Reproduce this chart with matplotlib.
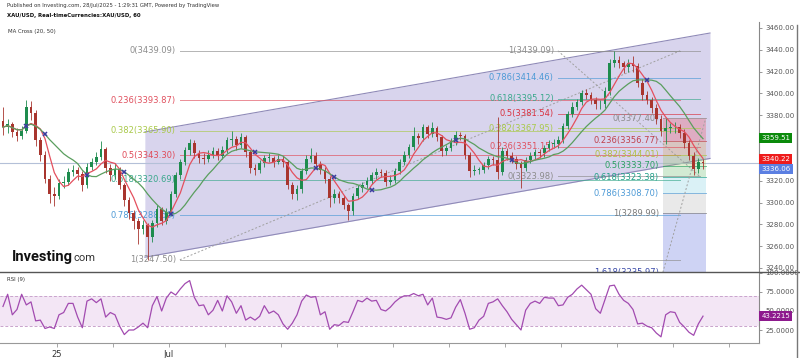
import numpy as np
import pandas as pd
import matplotlib
matplotlib.use('Agg')
import matplotlib.pyplot as plt
from matplotlib.lines import Line2D
from matplotlib.transforms import offset_copy

# XAU/USD, 4-hour bars (Jun 23 - Jul 28 2025)
first_open = 3375
closes = [3369, 3372, 3365, 3361, 3366, 3388, 3382, 3357, 3344, 3322,
          3308, 3306, 3318, 3319, 3328, 3330, 3326, 3316, 3333, 3337,
          3342, 3349, 3332, 3325, 3331, 3316, 3302, 3290, 3283, 3276,
          3279, 3268, 3281, 3294, 3283, 3291, 3308, 3325, 3337, 3348,
          3355, 3345, 3341, 3340, 3344, 3347, 3343, 3348, 3357, 3358,
          3353, 3360, 3346, 3332, 3330, 3336, 3341, 3341, 3337, 3340,
          3337, 3316, 3308, 3312, 3329, 3340, 3343, 3335, 3330, 3322,
          3304, 3308, 3304, 3298, 3292, 3306, 3313, 3316, 3320, 3325,
          3328, 3327, 3319, 3321, 3329, 3337, 3344, 3351, 3361, 3359,
          3369, 3363, 3368, 3360, 3347, 3350, 3356, 3362, 3361, 3344,
          3329, 3330, 3330, 3334, 3340, 3339, 3328, 3347, 3343, 3340,
          3335, 3332, 3339, 3343, 3346, 3345, 3350, 3354, 3354, 3357,
          3370, 3381, 3388, 3392, 3400, 3399, 3394, 3390, 3390, 3402,
          3428, 3431, 3428, 3424, 3428, 3425, 3410, 3399, 3394, 3387,
          3377, 3366, 3368, 3369, 3369, 3364, 3355, 3343, 3331, 3337,
          3336.06]
highs = [3388, 3377, 3374, 3368, 3370, 3394, 3393, 3385, 3360, 3347,
         3325, 3314, 3322, 3324, 3332, 3334, 3333, 3329, 3336, 3341,
         3346, 3356, 3351, 3335, 3336, 3333, 3318, 3305, 3293, 3286,
         3284, 3281, 3284, 3298, 3296, 3295, 3311, 3328, 3340, 3351,
         3358, 3357, 3348, 3345, 3348, 3351, 3350, 3352, 3360, 3366,
         3361, 3364, 3362, 3348, 3335, 3339, 3344, 3345, 3343, 3344,
         3343, 3339, 3319, 3316, 3332, 3344, 3350, 3346, 3338, 3333,
         3324, 3312, 3311, 3307, 3300, 3309, 3316, 3319, 3323, 3328,
         3332, 3331, 3330, 3325, 3332, 3340, 3347, 3354, 3369, 3364,
         3372, 3371, 3374, 3370, 3362, 3353, 3359, 3366, 3365, 3363,
         3346, 3334, 3333, 3337, 3343, 3343, 3378, 3351, 3350, 3346,
         3343, 3338, 3342, 3346, 3349, 3349, 3353, 3357, 3358, 3361,
         3373, 3384, 3392, 3395, 3403, 3404, 3401, 3397, 3394, 3406,
         3432, 3439.09, 3434, 3430, 3432, 3434, 3428, 3413, 3402, 3397,
         3390, 3380, 3377.4, 3373, 3374, 3372, 3367, 3357, 3346, 3341,
         3340]
lows = [3362, 3364, 3360, 3356, 3358, 3364, 3376, 3352, 3338, 3318,
        3300, 3297, 3303, 3313, 3316, 3324, 3321, 3311, 3313, 3330,
        3334, 3339, 3327, 3320, 3322, 3312, 3297, 3285, 3276, 3262,
        3271, 3247.5, 3264, 3278, 3279, 3280, 3288, 3305, 3322, 3334,
        3344, 3341, 3336, 3335, 3337, 3341, 3339, 3340, 3345, 3352,
        3348, 3350, 3342, 3327, 3325, 3327, 3333, 3337, 3333, 3335,
        3333, 3312, 3303, 3302, 3309, 3326, 3337, 3331, 3326, 3318,
        3296, 3300, 3300, 3294, 3284, 3289, 3303, 3310, 3313, 3317,
        3322, 3323, 3315, 3316, 3318, 3326, 3334, 3341, 3348, 3354,
        3356, 3359, 3360, 3356, 3343, 3344, 3347, 3353, 3357, 3340,
        3323, 3325, 3326, 3327, 3331, 3334, 3322, 3325, 3339, 3336,
        3331, 3313, 3329, 3336, 3340, 3341, 3342, 3347, 3350, 3350,
        3355, 3367, 3378, 3385, 3389, 3395, 3390, 3386, 3386, 3387,
        3399, 3424, 3423, 3419, 3420, 3420, 3406, 3394, 3390, 3382,
        3372, 3361, 3354, 3364, 3364, 3359, 3350, 3339, 3325, 3327,
        3331]
rsi = [56, 72, 45, 52, 72, 58, 62, 37, 38, 27,
       29, 27, 45, 48, 60, 60, 42, 28, 63, 66,
       61, 66, 42, 48, 45, 30, 19, 25, 25, 29,
       34, 28, 57, 69, 50, 67, 75, 71, 79, 86,
       90, 68, 57, 58, 45, 51, 64, 50, 70, 62,
       47, 57, 38, 42, 38, 43, 57, 47, 50, 45,
       33, 26, 34, 45, 63, 71, 68, 69, 45, 49,
       26, 32, 31, 36, 35, 49, 64, 62, 67, 63,
       64, 52, 50, 55, 62, 67, 70, 70, 73, 70,
       72, 58, 67, 42, 41, 39, 41, 55, 65, 47,
       26, 28, 38, 43, 60, 62, 66, 57, 49, 39,
       32, 25, 51, 60, 63, 60, 68, 67, 67, 57,
       58, 68, 72, 79, 84, 78, 72, 53, 47, 65,
       83, 84, 72, 64, 60, 52, 33, 34, 30, 28,
       21, 16, 45, 49, 48, 35, 29, 22, 18, 33,
       43.2215]

last_price = 3336.06
ma20_last = 3340.22
ma50_last = 3359.51
rsi_last = 43.2215

# drawings: parallel channel (bar, upper, lower) and three fib retracements
channel_bars = [30.4, 151.5]
channel_upper = [3364.7, 3455.4]
channel_lower = [3249.9, 3340.4]

fib_a_bars = [37.9, 145.1]
fib_a_levels = [0, 0.236, 0.382, 0.5, 0.618, 0.786, 1]
fib_a_prices = [3439.09, 3393.87, 3365.90, 3343.30, 3320.69, 3288.50, 3247.50]
fib_a_colors = ['#8c8c8c', '#e0505e', '#a9c94a', '#e04a58', '#3aa88c', '#4d9ad6', '#8c8c8c']

fib_b_bars = [118.9, 149.3]
fib_b_levels = [1, 0.786, 0.618, 0.5, 0.382, 0.236, 0]
fib_b_prices = [3439.09, 3414.46, 3395.12, 3381.54, 3367.95, 3351.15, 3323.98]
fib_b_colors = ['#8c8c8c', '#4d9ad6', '#3aa88c', '#d8303e', '#a9c94a', '#e0505e', '#8c8c8c']

fib_c_bars = [141.4, 150.6]
fib_c_levels = [0, 0.236, 0.382, 0.5, 0.618, 0.786, 1, 1.618]
fib_c_prices = [3377.40, 3356.77, 3344.01, 3333.70, 3323.38, 3308.70, 3289.99, 3235.97]
fib_c_colors = ['#8c8c8c', '#c0404c', '#b0c040', '#2aa060', '#20a088', '#4d9ad6', '#7a7a7a', '#3848a8']
fib_c_fills = ['#f23645', '#d89a40', '#8bc34a', '#4caf50', '#6cc8dc', '#a8a8a8', '#3f51d5']

tick_bars = np.arange(11.5, 160, 12)
tick_labels = ['25', '', 'Jul'] + [''] * (len(tick_bars) - 3)
price_ticks = np.arange(3240, 3461, 20)

# ---------------------------------------------------------------
W, H = 800, 358
fig = plt.figure(figsize=(8, 3.58), dpi=100)
fig.patch.set_facecolor('white')

ax = fig.add_axes([0, 86 / H, 759 / W, 250 / H])
ax2 = fig.add_axes([0, 15 / H, 759 / W, 71 / H], sharex=ax)

n = len(closes)
x = np.arange(n)
opens = np.array([first_open] + closes[:-1], dtype=float)
c = np.array(closes, dtype=float)

ax.set_xlim(-0.64, 162.0)
ax.set_ylim(3236.3, 3465.5)

# channel
ax.fill_between(channel_bars, channel_lower, channel_upper, color='#d8d4ed', lw=0, zorder=1)
ax.plot(channel_bars, channel_upper, color='#8f8ab8', lw=0.8, zorder=1.2)
ax.plot(channel_bars, channel_lower, color='#8f8ab8', lw=0.8, zorder=1.2)

# current price line
ax.axhline(last_price, color='#b4c0d8', lw=0.8, zorder=1.5)

lbl_trans = offset_copy(ax.transData, fig=fig, x=-4, y=0, units='dots')


def draw_fib(bars, levels, prices, colors, fills=None):
    if fills is not None:
        for k in range(len(prices) - 1):
            ax.fill_between(bars, prices[k + 1], prices[k], color=fills[k],
                            alpha=0.25, lw=0, zorder=1.6)
    for lvl, p, col in zip(levels, prices, colors):
        ax.plot(bars, [p, p], color=col, lw=0.7, alpha=0.65, zorder=2)
        ax.text(bars[0], p, '%g(%.2f)' % (lvl, p), transform=lbl_trans, ha='right',
                va='center', fontsize=6, color=col, zorder=2, clip_on=True)
    ax.plot(bars, [prices[-1], prices[0]] if levels[0] == 0 else [prices[0], prices[-1]],
            color='#a0a0a0', lw=0.7, ls=(0, (2, 2)), zorder=2)


draw_fib(fib_a_bars, fib_a_levels, fib_a_prices, fib_a_colors)
draw_fib(fib_b_bars, fib_b_levels, fib_b_prices, fib_b_colors)
draw_fib(fib_c_bars, fib_c_levels, fib_c_prices, fib_c_colors, fib_c_fills)

# candles
up = c >= opens
col = np.where(up, '#1e8c4e', '#a8352e')
ax.vlines(x, lows, highs, colors=col, lw=0.6, zorder=3)
body = np.where(np.abs(c - opens) < 0.5, 0.5, c - opens)
ax.bar(x, body, bottom=opens, width=0.62, color=col, lw=0, zorder=3)

# moving averages (20h / 50h on 4h bars)
s = pd.Series(c)
ma20 = s.rolling(5, min_periods=1).mean().values
ma50 = s.rolling(12, min_periods=1).mean().values
ax.plot(x, ma20, color='#e4505e', lw=0.9, zorder=4)
ax.plot(x, ma50, color='#5a9e5e', lw=0.9, zorder=4)
d = np.sign(ma20 - ma50)
cross = np.where((d[1:] != d[:-1]) & (d[1:] != 0))[0] + 1
ax.plot(x[cross], ma50[cross], 'x', color='#3b3ba0', ms=2.5, mew=1.1, zorder=5)

# price axis (labels hidden under the value boxes are left blank)
for sp in ['top', 'left', 'bottom']:
    ax.spines[sp].set_visible(False)
ax.spines['right'].set_color('#888888')
ax.spines['right'].set_linewidth(0.8)
ax.yaxis.tick_right()
ax.set_yticks(price_ticks)
covered = [ma50_last, ma20_last]
ax.set_yticklabels(['' if min(abs(t - v) for v in covered) < 5 else '%.2f' % t
                    for t in price_ticks])
ax.tick_params(axis='y', labelsize=5, colors='#888888', labelcolor='#555555',
               length=2.5, width=0.6, pad=2)
ax.tick_params(axis='x', bottom=False, labelbottom=False)

ytr = ax.get_yaxis_transform()
box = dict(boxstyle='square,pad=0.3', ec='none')
ax.text(1.003, ma50_last, '%.2f' % ma50_last, transform=ytr, ha='left', va='center',
        fontsize=5, color='white', bbox=dict(box, fc='#0b8a0b'), zorder=10, clip_on=False)
ax.text(1.003, ma20_last, '%.2f' % ma20_last, transform=ytr, ha='left', va='center',
        fontsize=5, color='white', bbox=dict(box, fc='#ee1c1c'), zorder=10, clip_on=False)
ax.annotate('%.2f' % last_price, xy=(1.003, last_price), xycoords=ytr, xytext=(0, -4),
            textcoords='offset points', ha='left', va='center', fontsize=5, color='white',
            bbox=dict(box, fc='#5b7fe2'), zorder=10, annotation_clip=False)

# RSI pane
ax2.set_ylim(7.9, 101.3)
ax2.fill_between([-0.64, 162.0], 30, 70, color='#f3e6f5', lw=0, zorder=0)
ax2.axhline(70, color='#c9a3cc', lw=0.7, ls=(0, (3, 2)), zorder=1)
ax2.axhline(30, color='#c9a3cc', lw=0.7, ls=(0, (3, 2)), zorder=1)
ax2.plot(x, rsi, color='#a24bb0', lw=0.9, zorder=2)
for sp in ['top', 'left']:
    ax2.spines[sp].set_visible(False)
ax2.spines['right'].set_color('#888888')
ax2.spines['bottom'].set_color('#999999')
ax2.spines['right'].set_linewidth(0.8)
ax2.spines['bottom'].set_linewidth(0.8)
ax2.yaxis.tick_right()
ax2.set_yticks([25, 50, 75, 100])
ax2.yaxis.set_major_formatter(matplotlib.ticker.FormatStrFormatter('%.4f'))
ax2.tick_params(axis='y', labelsize=5, colors='#888888', labelcolor='#555555',
                length=2.5, width=0.6, pad=2)
ax2.set_xticks(tick_bars)
ax2.set_xticklabels(tick_labels)
ax2.tick_params(axis='x', labelsize=6, colors='#999999', labelcolor='#333333',
                length=3, width=0.6, pad=2)
ax2.text(1.003, rsi_last, '%.4f' % rsi_last, transform=ax2.get_yaxis_transform(),
         ha='left', va='center', fontsize=5, color='white',
         bbox=dict(box, fc='#8d1a8d'), zorder=10, clip_on=False)

# frame lines
fig.add_artist(Line2D([0, 1], [1 - 272 / H, 1 - 272 / H], color='#555555', lw=1))
fig.add_artist(Line2D([797 / W, 797 / W], [0, 1 - 25 / H], color='#777777', lw=1))

# header texts
fig.text(7 / W, 1 - 6 / H, 'Published on Investing.com, 28/Jul/2025 - 1:29:31 GMT, Powered by TradingView',
         fontsize=3.8, color='#333333', va='center')
fig.text(7 / W, 1 - 16 / H, 'XAU/USD, Real-timeCurrencies:XAU/USD, 60',
         fontsize=3.9, color='#111111', fontweight='bold', va='center')
fig.text(8 / W, 1 - 32 / H, 'MA Cross (20, 50)', fontsize=3.9, color='#333333', va='center')
fig.text(7 / W, 1 - 279 / H, 'RSI (9)', fontsize=3.9, color='#333333', va='center')

# logo
fig.text(12 / W, 1 - 261 / H, 'Investing', fontsize=10.5, fontweight='bold',
         family='Roboto', color='#111111', va='baseline')
fig.text(74 / W, 1 - 261 / H, 'com', fontsize=8, family='Roboto', color='#333333',
         va='baseline')

fig.savefig('out.png', dpi=100, facecolor='white')
